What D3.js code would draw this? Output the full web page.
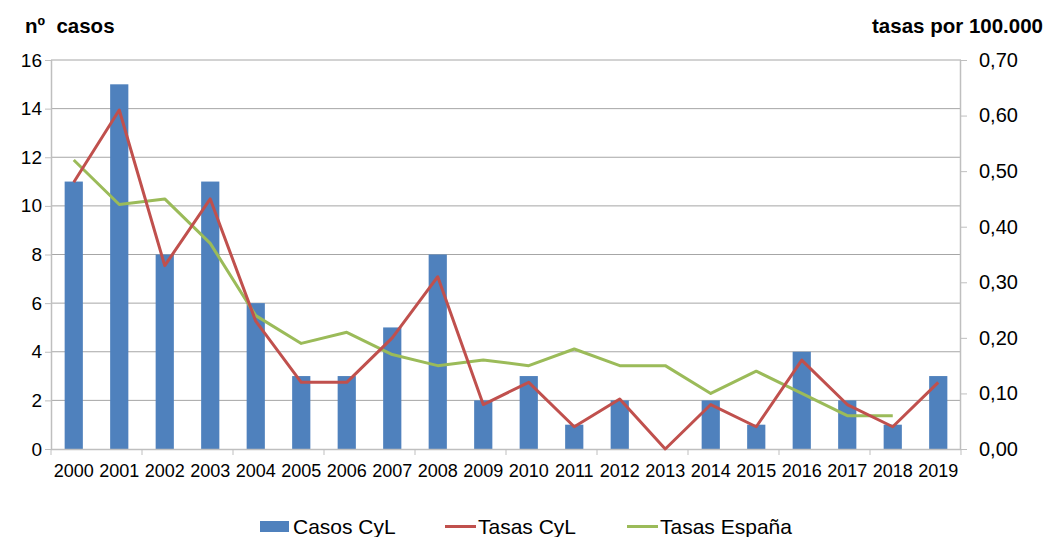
<!DOCTYPE html>
<html>
<head>
<meta charset="utf-8">
<script src="https://cdn.jsdelivr.net/npm/d3@7"></script>
<style>
  body { margin: 0; background: #fff; }
  svg { font-family: 'Liberation Sans', Arial, sans-serif; }
</style>
</head>
<body>
<svg id="chart"></svg>
<script>
const years = ['2000', '2001', '2002', '2003', '2004', '2005', '2006', '2007', '2008', '2009',
    '2010', '2011', '2012', '2013', '2014', '2015', '2016', '2017', '2018', '2019']
const casosCyL = [11, 15, 8, 11, 6, 3, 3, 5, 8, 2, 3, 1, 2, 0, 2, 1, 4, 2, 1, 3]
const tasasCyL = [0.48, 0.61, 0.33, 0.45, 0.23, 0.12, 0.12, 0.20, 0.31, 0.08,
    0.12, 0.04, 0.09, 0.00, 0.08, 0.04, 0.16, 0.08, 0.04, 0.12]
const tasasEspana = [0.52, 0.44, 0.45, 0.37, 0.24, 0.19, 0.21, 0.17, 0.15, 0.16,
    0.15, 0.18, 0.15, 0.15, 0.10, 0.14, 0.10, 0.06, 0.06, null]
const leftTicks = [0, 2, 4, 6, 8, 10, 12, 14, 16]
const rightTicks = [0, 0.1, 0.2, 0.3, 0.4, 0.5, 0.6, 0.7]

const colours = { casos: '#4f81bd', cyl: '#c0504d', espana: '#9bbb59' }

const svgWidth = 1049
const svgHeight = 537
const margin = { left: 51, right: 88, top: 60, bottom: 88 }
const width = svgWidth - margin.left - margin.right
const height = svgHeight - margin.top - margin.bottom

const svg = d3.select('#chart')
    .attr('width', svgWidth)
    .attr('height', svgHeight)

const chart = svg.append('g')
    .attr('transform', `translate(${[margin.left, margin.top]})`)

const x = d3.scaleBand().domain(years).range([0, width]).padding(0)
const yLeft = d3.scaleLinear().domain([0, 16]).range([height, 0])
const yRight = d3.scaleLinear().domain([0, 0.7]).range([height, 0])

// gridlines
chart.append('g')
    .selectAll('line')
    .data(leftTicks.filter(d => d > 0))
    .join('line')
    .attr('x1', 0)
    .attr('x2', width)
    .attr('y1', d => yLeft(d))
    .attr('y2', d => yLeft(d))
    .attr('stroke', '#a6a6a6')
    .attr('stroke-width', 1)

// bars
const barWidth = x.bandwidth() * 0.4
chart.append('g')
    .selectAll('rect')
    .data(casosCyL)
    .join('rect')
    .attr('x', (d, i) => x(years[i]) + (x.bandwidth() - barWidth) / 2)
    .attr('y', d => yLeft(d))
    .attr('width', barWidth)
    .attr('height', d => height - yLeft(d))
    .attr('fill', colours.casos)

// axes
const leftAxis = chart.append('g')
    .call(d3.axisLeft(yLeft).tickValues(leftTicks).tickSize(6).tickPadding(3).tickFormat(d3.format('d')))
const rightAxis = chart.append('g')
    .attr('transform', `translate(${width}, 0)`)
    .call(d3.axisRight(yRight).tickValues(rightTicks).tickSize(6).tickPadding(12)
        .tickFormat(d => d3.format('.2f')(d).replace('.', ',')))
const bottomAxis = chart.append('g')
    .attr('transform', `translate(0, ${height})`)
    .call(d3.axisBottom(x).tickSize(0).tickPadding(15))

// tick marks on category boundaries, every two years
chart.append('g')
    .selectAll('line')
    .data(years.filter((d, i) => i % 2 === 0).concat(['end']))
    .join('line')
    .attr('x1', d => d === 'end' ? width : x(d))
    .attr('x2', d => d === 'end' ? width : x(d))
    .attr('y1', height)
    .attr('y2', height + 6)
    .attr('stroke', '#bfbfbf')

;[leftAxis, rightAxis, bottomAxis].forEach(a => {
    a.select('.domain').attr('stroke', '#bfbfbf').attr('stroke-width', 1.5)
    a.selectAll('.tick line').attr('stroke', '#bfbfbf')
    a.selectAll('text').attr('fill', '#000')
})
leftAxis.selectAll('text').attr('font-size', 19)
rightAxis.selectAll('text').attr('font-size', 20)
bottomAxis.selectAll('text').attr('font-size', 18)
bottomAxis.select('.domain').attr('d', `M0,0.5H${width}`)
leftAxis.select('.domain').attr('d', `M0.5,0V${height}`)
rightAxis.select('.domain').attr('d', `M-0.5,0V${height}`)

// lines
const lineCyL = d3.line()
    .x((d, i) => x(years[i]) + x.bandwidth() / 2)
    .y(d => yRight(d))
const lineEsp = d3.line()
    .defined(d => d !== null)
    .x((d, i) => x(years[i]) + x.bandwidth() / 2)
    .y(d => yRight(d))

chart.append('path')
    .datum(tasasEspana)
    .attr('d', lineEsp)
    .attr('fill', 'none')
    .attr('stroke', colours.espana)
    .attr('stroke-width', 3)
    .attr('stroke-linejoin', 'round')

chart.append('path')
    .datum(tasasCyL)
    .attr('d', lineCyL)
    .attr('fill', 'none')
    .attr('stroke', colours.cyl)
    .attr('stroke-width', 3)
    .attr('stroke-linejoin', 'round')

// axis titles
svg.append('text')
    .attr('x', 25)
    .attr('y', 33)
    .attr('font-size', 20.5)
    .attr('font-weight', 'bold')
    .attr('xml:space', 'preserve')
    .text('nº  casos')
svg.append('text')
    .attr('x', 1043)
    .attr('y', 33)
    .attr('text-anchor', 'end')
    .attr('font-size', 20.5)
    .attr('font-weight', 'bold')
    .text('tasas por 100.000')

// legend
const legendItems = [
    { label: 'Casos CyL', type: 'rect', colour: colours.casos, x: 260 },
    { label: 'Tasas CyL', type: 'line', colour: colours.cyl, x: 445 },
    { label: 'Tasas España', type: 'line', colour: colours.espana, x: 627 }
]
const legend = svg.append('g')
    .selectAll('g')
    .data(legendItems)
    .join('g')
    .attr('transform', d => `translate(${d.x}, 526.5)`)
legend.filter(d => d.type === 'rect')
    .append('rect')
    .attr('x', 0).attr('y', -5.5).attr('width', 29).attr('height', 11)
    .attr('fill', d => d.colour)
legend.filter(d => d.type === 'line')
    .append('line')
    .attr('x1', 0).attr('x2', 31).attr('y1', 0).attr('y2', 0)
    .attr('stroke', d => d.colour)
    .attr('stroke-width', 3)
legend.append('text')
    .attr('x', d => d.type === 'rect' ? 33 : 33)
    .attr('y', 7.5)
    .attr('font-size', 21)
    .text(d => d.label)
</script>
</body>
</html>
